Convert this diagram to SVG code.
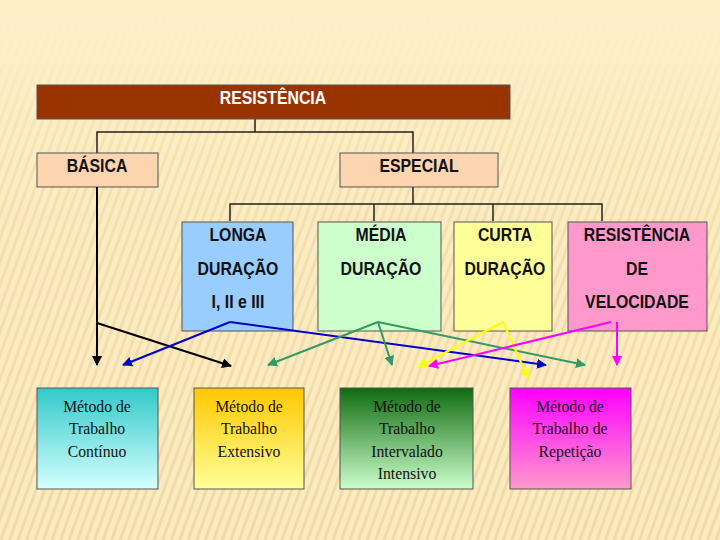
<svg xmlns="http://www.w3.org/2000/svg" width="720" height="540" viewBox="0 0 720 540">
<defs>
<style>
.b{font-family:"Liberation Sans",Arial,sans-serif;font-weight:bold;font-size:18px;fill:#111;text-anchor:middle;transform-box:fill-box;transform-origin:center;transform:scaleX(0.88)}
.t{font-family:"Liberation Serif","Times New Roman",serif;font-size:17.5px;fill:#111;text-anchor:middle;transform-box:fill-box;transform-origin:center;transform:scaleX(0.9)}
.box{stroke:#555;stroke-width:1}
.tree{fill:none;stroke:#222;stroke-width:1.5}
.c{fill:none;stroke-width:2}
</style>
<pattern id="stripes" width="8" height="8" patternUnits="userSpaceOnUse" patternTransform="rotate(20)">
<rect width="8" height="8" fill="#fbeac0"/>
<rect width="3" height="8" fill="#f1d9a4"/>
</pattern>
<linearGradient id="fade" x1="0" y1="0" x2="0" y2="1">
<stop offset="0" stop-color="#fff" stop-opacity="0"/>
<stop offset="0.12" stop-color="#fff" stop-opacity="0.15"/>
<stop offset="0.3" stop-color="#fff" stop-opacity="0.7"/>
<stop offset="1" stop-color="#fff" stop-opacity="1"/>
</linearGradient>
<mask id="m"><rect width="720" height="540" fill="url(#fade)"/></mask>
<linearGradient id="g1" x1="0" y1="0" x2="0" y2="1"><stop offset="0" stop-color="#33c9c9"/><stop offset="1" stop-color="#d4ffff"/></linearGradient>
<linearGradient id="g2" x1="0" y1="0" x2="0" y2="1"><stop offset="0" stop-color="#ffc800"/><stop offset="1" stop-color="#ffff99"/></linearGradient>
<linearGradient id="g3" x1="0" y1="0" x2="0" y2="1"><stop offset="0" stop-color="#106b10"/><stop offset="1" stop-color="#ccffcc"/></linearGradient>
<linearGradient id="g4" x1="0" y1="0" x2="0" y2="1"><stop offset="0" stop-color="#ff00ff"/><stop offset="1" stop-color="#ff99cc"/></linearGradient>
<marker id="aK" viewBox="0 0 10 10" refX="9" refY="5" markerWidth="5" markerHeight="5" orient="auto" markerUnits="strokeWidth"><path d="M0,0L10,5L0,10z" fill="#000"/></marker>
<marker id="aB" viewBox="0 0 10 10" refX="9" refY="5" markerWidth="5" markerHeight="5" orient="auto" markerUnits="strokeWidth"><path d="M0,0L10,5L0,10z" fill="#0000cc"/></marker>
<marker id="aG" viewBox="0 0 10 10" refX="9" refY="5" markerWidth="5" markerHeight="5" orient="auto" markerUnits="strokeWidth"><path d="M0,0L10,5L0,10z" fill="#339966"/></marker>
<marker id="aY" viewBox="0 0 10 10" refX="9" refY="5" markerWidth="5" markerHeight="5" orient="auto" markerUnits="strokeWidth"><path d="M0,0L10,5L0,10z" fill="#ffff00"/></marker>
<marker id="aM" viewBox="0 0 10 10" refX="9" refY="5" markerWidth="5" markerHeight="5" orient="auto" markerUnits="strokeWidth"><path d="M0,0L10,5L0,10z" fill="#ff00ff"/></marker>
</defs>
<rect width="720" height="540" fill="#fdf0c9"/>
<rect width="720" height="540" fill="url(#stripes)" mask="url(#m)"/>

<g id="tree-lines">
<path class="tree" d="M255,119V132M97,153V132H413V153"/>
<path class="tree" d="M413,187V204M230,221V204H602V221M374,204V221M493,204V221"/>
</g>

<g id="resistencia">
<rect class="box" x="37" y="85" width="473" height="34" fill="#993300"/>
<text class="b" x="273" y="104" style="fill:#fff">RESISTÊNCIA</text>
</g>
<g id="basica">
<rect class="box" x="37" y="153" width="121" height="34" fill="#fcd5b0"/>
<text class="b" x="97" y="172">BÁSICA</text>
</g>
<g id="especial">
<rect class="box" x="340" y="153" width="158" height="34" fill="#fcd5b0"/>
<text class="b" x="419" y="172">ESPECIAL</text>
</g>
<g id="longa">
<rect class="box" x="182" y="222" width="111" height="109" fill="#99ccff"/>
<text class="b" x="238" y="241">LONGA</text>
<text class="b" x="238" y="275">DURAÇÃO</text>
<text class="b" x="238" y="308">I, II e III</text>
</g>
<g id="media">
<rect class="box" x="318" y="222" width="123" height="109" fill="#ccffcc"/>
<text class="b" x="381" y="241">MÉDIA</text>
<text class="b" x="381" y="275">DURAÇÃO</text>
</g>
<g id="curta">
<rect class="box" x="454" y="222" width="98" height="109" fill="#ffff99"/>
<text class="b" x="505" y="241">CURTA</text>
<text class="b" x="505" y="275">DURAÇÃO</text>
</g>
<g id="velocidade">
<rect class="box" x="568" y="222" width="139" height="109" fill="#ff99cc"/>
<text class="b" x="637" y="241">RESISTÊNCIA</text>
<text class="b" x="637" y="275">DE</text>
<text class="b" x="637" y="308">VELOCIDADE</text>
</g>

<g id="continuo">
<rect class="box" x="37" y="388" width="121" height="101" fill="url(#g1)"/>
<text class="t" x="97" y="412">Método de</text>
<text class="t" x="97" y="434">Trabalho</text>
<text class="t" x="97" y="457">Contínuo</text>
</g>
<g id="extensivo">
<rect class="box" x="194" y="388" width="110" height="101" fill="url(#g2)"/>
<text class="t" x="249" y="412">Método de</text>
<text class="t" x="249" y="434">Trabalho</text>
<text class="t" x="249" y="457">Extensivo</text>
</g>
<g id="intervalado">
<rect class="box" x="340" y="388" width="133" height="101" fill="url(#g3)"/>
<text class="t" x="407" y="412">Método de</text>
<text class="t" x="407" y="434">Trabalho</text>
<text class="t" x="407" y="457">Intervalado</text>
<text class="t" x="407" y="479">Intensivo</text>
</g>
<g id="repeticao">
<rect class="box" x="510" y="388" width="121" height="101" fill="url(#g4)"/>
<text class="t" x="570" y="412">Método de</text>
<text class="t" x="570" y="434">Trabalho de</text>
<text class="t" x="570" y="457">Repetição</text>
</g>

<g id="connectors">
<path class="c" stroke="#000" d="M97,187V365" marker-end="url(#aK)"/>
<path class="c" stroke="#000" d="M97,323L231,366" marker-end="url(#aK)"/>
<path class="c" stroke="#0000cc" d="M230,322L123,365" marker-end="url(#aB)"/>
<path class="c" stroke="#0000cc" d="M230,322L546,365" marker-end="url(#aB)"/>
<path class="c" stroke="#339966" d="M378,322L268,365" marker-end="url(#aG)"/>
<path class="c" stroke="#339966" d="M378,322L392,365" marker-end="url(#aG)"/>
<path class="c" stroke="#339966" d="M378,322L585,365" marker-end="url(#aG)"/>
<path class="c" stroke="#ffff00" d="M503,322L418,367" marker-end="url(#aY)"/>
<path class="c" stroke="#ffff00" d="M503,322L528,378" marker-end="url(#aY)"/>
<path class="c" stroke="#ff00ff" d="M611,322L429,366" marker-end="url(#aM)"/>
<path class="c" stroke="#ff00ff" d="M617,322V365" marker-end="url(#aM)"/>
</g>
</svg>
